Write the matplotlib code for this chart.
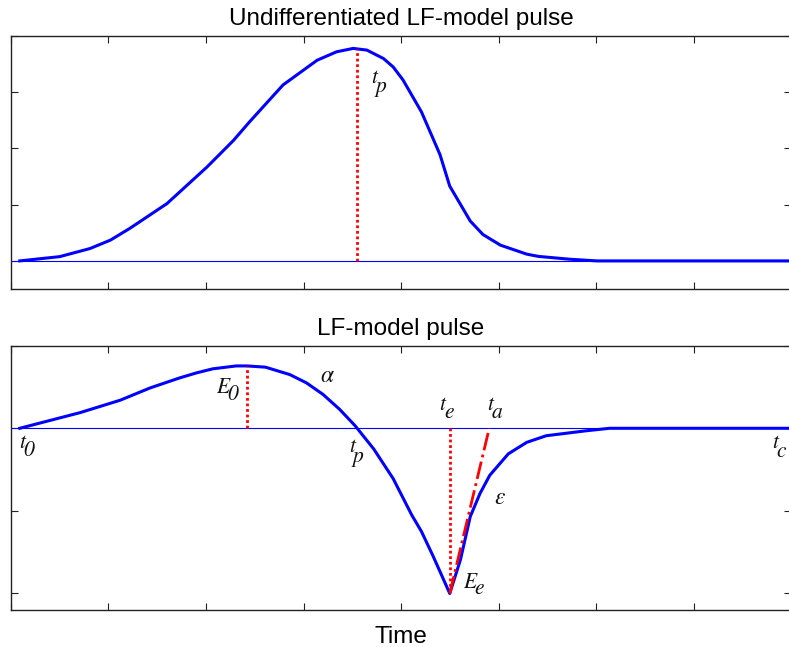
import numpy as np
import matplotlib
matplotlib.use("Agg")
import matplotlib.pyplot as plt

plt.rcParams['font.family'] = ['Liberation Sans', 'DejaVu Sans']
plt.rcParams['mathtext.fontset'] = 'stix'

# undifferentiated pulse (top panel)
top_x = [0.09, 0.50, 0.81, 1.02, 1.22, 1.60, 2.01, 2.28, 2.45, 2.79, 3.14, 3.34,
         3.51, 3.65, 3.82, 3.92, 4.02, 4.21, 4.40, 4.50, 4.71, 4.84, 5.02, 5.29,
         5.41, 5.73, 6.01, 8.0]
top_y = [0.0, 0.076, 0.22, 0.37, 0.58, 1.02, 1.67, 2.14, 2.48, 3.13, 3.57, 3.72,
         3.78, 3.75, 3.60, 3.45, 3.22, 2.65, 1.89, 1.33, 0.71, 0.47, 0.28, 0.12,
         0.08, 0.03, 0.0, 0.0]

# LF-model pulse (bottom panel)
bot_x = [0.09, 0.71, 1.12, 1.43, 1.73, 1.90, 2.07, 2.31, 2.42, 2.61, 2.86, 3.03,
         3.20, 3.37, 3.53, 3.72, 3.92, 4.11, 4.21, 4.33, 4.50, 4.61, 4.71, 4.81,
         4.91, 5.10, 5.29, 5.49, 5.90, 6.14, 8.0]
bot_y = [0.0, 0.19, 0.34, 0.49, 0.61, 0.67, 0.72, 0.755, 0.755, 0.74, 0.65, 0.55,
         0.41, 0.23, 0.03, -0.25, -0.61, -1.05, -1.25, -1.55, -2.0, -1.59, -1.07, -0.79,
         -0.57, -0.31, -0.17, -0.09, -0.03, 0.0, 0.0]

tp_top = 3.55
tp_peak = 3.77
e0_x, e0_y = 2.42, 0.755
te_x, ee_y = 4.50, -2.0
ta_x = 4.905

fig = plt.figure(figsize=(7.89, 6.47), dpi=100)
ax1 = fig.add_axes([0.01394, 0.5533, 0.9886, 0.3910])
ax2 = fig.add_axes([0.01394, 0.0572, 0.9886, 0.4085])

blue = '#0000ff'
red = '#ff0000'
dotted = (0, (1, 1))


def style(ax, yticks, ylim):
    ax.set_xlim(0, 8)
    ax.set_ylim(*ylim)
    ax.set_xticks(np.arange(0, 9))
    ax.set_yticks(yticks)
    ax.set_xticklabels([])
    ax.set_yticklabels([])
    ax.tick_params(direction='in', length=5, width=0.8, top=True, right=True,
                   color='#222222')
    for s in ax.spines.values():
        s.set_linewidth(1.0)
        s.set_color('#222222')


def label(ax, x, y, base, sub, dx, dy):
    # matlab-style label: subscript at the same size, shifted down-right
    kw = dict(fontsize=15.5, family='STIXGeneral', style='italic',
              ha='center', va='center', color='#111111')
    ax.text(x, y, base, **kw)
    ax.annotate(sub, (x, y), xytext=(dx * 0.72, -dy * 0.72),
                textcoords='offset points', **kw)


# top panel
ax1.axhline(0, color=blue, lw=0.8)
ax1.plot(top_x, top_y, color=blue, lw=2.2)
ax1.plot([tp_top, tp_top], [0, tp_peak], color=red, lw=2, linestyle=dotted)
label(ax1, 3.73, 3.26, 't', 'p', 6, 9)
style(ax1, [0, 1, 2, 3, 4], (-0.5, 4))
ax1.set_title('Undifferentiated LF-model pulse', fontsize=17.5, pad=8)

# bottom panel
ax2.axhline(0, color=blue, lw=0.8)
ax2.plot(bot_x, bot_y, color=blue, lw=2.2)
ax2.plot([e0_x, e0_x], [0, e0_y], color=red, lw=2, linestyle=dotted)
ax2.plot([te_x, te_x], [0, ee_y], color=red, lw=2, linestyle=dotted)
ax2.plot([te_x, ta_x], [ee_y, 0], color=red, lw=2, linestyle='-.')
label(ax2, 0.11, -0.17, 't', '0', 7, 8)
label(ax2, 2.17, 0.49, 'E', '0', 10, 7)
label(ax2, 3.50, -0.22, 't', 'p', 6, 10)
label(ax2, 4.42, 0.29, 't', 'e', 7, 8)
label(ax2, 4.91, 0.29, 't', 'a', 7.5, 8.5)
label(ax2, 4.70, -1.87, 'E', 'e', 10, 6)
label(ax2, 7.84, -0.17, 't', 'c', 6, 9)
ax2.text(3.25, 0.63, r'$\alpha$', fontsize=17, ha='center', va='center',
         color='#111111')
ax2.text(5.02, -0.84, r'$\varepsilon$', fontsize=17, ha='center', va='center',
         color='#111111')
style(ax2, [-2, -1, 0, 1], (-2.2, 1))
ax2.set_title('LF-model pulse', fontsize=17.5, pad=8)
ax2.set_xlabel('Time', fontsize=17.5, labelpad=8)

fig.savefig('out.png', dpi=100)
